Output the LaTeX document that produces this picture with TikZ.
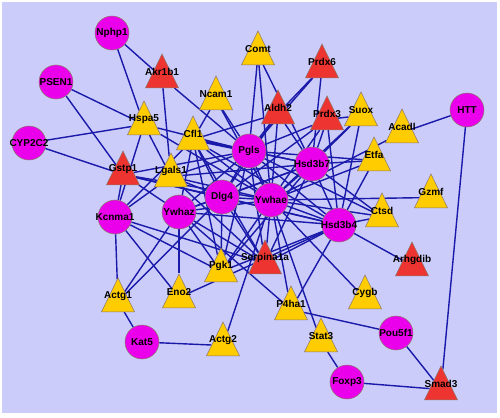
\documentclass[tikz,border=0pt]{standalone}
\usepackage{fontspec}
\setmainfont{Liberation Sans}
\usetikzlibrary{shapes.geometric}
\definecolor{bgc}{RGB}{204,204,250}
\definecolor{edgec}{RGB}{25,25,170}
\definecolor{magc}{RGB}{235,0,235}
\definecolor{yelc}{RGB}{255,204,0}
\definecolor{redc}{RGB}{238,52,48}
\definecolor{rimc}{RGB}{140,120,110}
\pgfdeclarelayer{background}
\pgfsetlayers{background,main}
\tikzset{
  gene/.style={circle, draw=rimc, line width=0.3pt, fill=magc, minimum size=0.68cm, inner sep=0pt,
    label={center:#1}},
  tri/.style={isosceles triangle, isosceles triangle apex angle=52, shape border rotate=90,
    draw=rimc, line width=0.3pt, minimum width=0.66cm, minimum height=0.66cm, inner sep=0pt,
    yshift=-0.11cm, label={[yshift=0.11cm]center:#1}},
  up/.style={tri=#1, fill=yelc},
  down/.style={tri=#1, fill=redc},
  every label/.style={font=\bfseries\fontsize{5.7}{6}\selectfont, inner sep=0pt},
  link/.style={draw=edgec, line width=0.8pt}
}
\begin{document}
\begin{tikzpicture}[x=0.02cm, y=-0.02cm]
\useasboundingbox (0,0) rectangle (500,417);

% circles
\node[gene=Nphp1]  (Nphp1)  at (112,33)  {};
\node[gene=PSEN1]  (PSEN1)  at (56,82)   {};
\node[gene=CYP2C2] (CYP2C2) at (29,143)  {};
\node[gene=HTT]    (HTT)    at (467,110) {};
\node[gene=Pgls]   (Pgls)   at (249,151) {};
\node[gene=Hsd3b7] (Hsd3b7) at (312,164) {};
\node[gene=Dlg4]   (Dlg4)   at (222,197) {};
\node[gene=Ywhae]  (Ywhae)  at (271,200) {};
\node[gene=Ywhaz]  (Ywhaz)  at (179,212) {};
\node[gene=Kcnma1] (Kcnma1) at (115,217) {};
\node[gene=Hsd3b4] (Hsd3b4) at (339,225) {};
\node[gene=Kat5]   (Kat5)   at (142,342) {};
\node[gene=Pou5f1] (Pou5f1) at (396,333) {};
\node[gene=Foxp3]  (Foxp3)  at (347,382) {};

% triangles
\node[down=Akr1b1]  (Akr1b1)  at (162,72)  {};
\node[up=Comt]      (Comt)    at (258,49)  {};
\node[down=Prdx6]   (Prdx6)   at (322,62)  {};
\node[up=Ncam1]     (Ncam1)   at (216,94)  {};
\node[down=Aldh2]   (Aldh2)   at (278,108) {};
\node[down=Prdx3]   (Prdx3)   at (327,114) {};
\node[up=Suox]      (Suox)    at (361,110) {};
\node[up=Acadl]     (Acadl)   at (402,127) {};
\node[up=Hspa5]     (Hspa5)   at (144,119) {};
\node[up=Cfl1]      (Cfl1)    at (193,134) {};
\node[down=Gstp1]   (Gstp1)   at (123,169) {};
\node[up=Lgals1]    (Lgals1)  at (171,171) {};
\node[up=Etfa]      (Etfa)    at (374,155) {};
\node[up=Gzmf]      (Gzmf)    at (431,192) {};
\node[up=Ctsd]      (Ctsd)    at (382,211) {};
\node[down=Arhgdib] (Arhgdib) at (412,260) {};
\node[down=Serpina1a] (Serpina1a) at (265,258) {};
\node[up=Pgk1]      (Pgk1)    at (221,266) {};
\node[up=Actg1]     (Actg1)   at (118,296) {};
\node[up=Eno2]      (Eno2)    at (179,292) {};
\node[up=Cygb]      (Cygb)    at (365,293) {};
\node[up=P4ha1]     (P4ha1)   at (291,304) {};
\node[up=Stat3]     (Stat3)   at (321,336) {};
\node[up=Actg2]     (Actg2)   at (223,340) {};
\node[down=Smad3]   (Smad3)   at (441,384) {};

\begin{pgfonlayer}{background}
\fill[bgc] (2,2) rectangle (497,413);
\begin{scope}[every edge/.style={link}]
\draw (Nphp1) edge (Akr1b1) edge (Hspa5);
\draw (PSEN1) edge (Hspa5) edge (Gstp1);
\draw (CYP2C2) edge (Hspa5) edge (Gstp1);
\draw (HTT) edge (Acadl) edge (Smad3);
\draw (Akr1b1) edge (Lgals1) edge (Pgls);
\draw (Comt) edge (Pgls) edge (Ywhae) edge (Hsd3b7);
\draw (Prdx6) edge (Aldh2) edge (Pgls) edge (Hsd3b7);
\draw (Ncam1) edge (Pgls) edge (Cfl1) edge (Ywhae);
\draw (Aldh2) edge (Pgls) edge (Ywhae) edge (Hsd3b7) edge (Dlg4) edge (Cfl1);
\draw (Prdx3) edge (Pgls) edge (Ywhae) edge (Hsd3b7) edge (Suox) edge (Hsd3b4) edge (Dlg4);
\draw (Suox) edge (Hsd3b7) edge (Hsd3b4) edge (Ywhae);
\draw (Acadl) edge (Ywhae);
\draw (Hspa5) edge (Kcnma1) edge (Lgals1) edge (Pgls) edge (Ywhae);
\draw (Cfl1) edge[line width=1.6pt] (Pgls) edge (Ywhae) edge (Hsd3b7) edge (Dlg4) edge (Ywhaz)
  edge (Pgk1) edge (Hsd3b4) edge (Serpina1a);
\draw (Gstp1) edge (Kcnma1) edge (Pgls) edge (Dlg4) edge (Ywhae) edge (Hsd3b4) edge (Ywhaz);
\draw (Lgals1) edge (Kcnma1) edge (Pgls) edge (Ywhae) edge (Dlg4) edge (Hsd3b7) edge (Serpina1a);
\draw (Kcnma1) edge (Cfl1) edge (Eno2) edge (Pgk1) edge (Actg1) edge (Serpina1a);
\draw (Etfa) edge (Pgls) edge (Hsd3b7) edge (Ywhae) edge (Hsd3b4);
\draw (Gzmf) edge (Ywhae);
\draw (Ctsd) edge (Hsd3b4) edge (Ywhae) edge (Hsd3b7) edge (Pgls);
\draw (Arhgdib) edge (Hsd3b4);
\draw (Pgls) edge (Ywhae) edge (Dlg4) edge (Hsd3b7) edge (Hsd3b4) edge (Ywhaz) edge (Serpina1a) edge (Pgk1);
\draw (Hsd3b7) edge (Ywhae) edge (Hsd3b4) edge (Dlg4) edge (Serpina1a) edge (Ywhaz) edge (Pgk1);
\draw (Ywhae) edge (Dlg4) edge (Hsd3b4) edge (Ywhaz) edge (Serpina1a) edge (Pgk1) edge (Cygb)
  edge (P4ha1) edge (Stat3) edge (Actg2);
\draw (Hsd3b4) edge (Serpina1a) edge (Dlg4) edge (Pgk1) edge (P4ha1) edge (Eno2) edge (Ywhaz);
\draw (Dlg4) edge (Pgk1) edge (Actg1) edge (Ywhaz) edge (Serpina1a);
\draw (Ywhaz) edge (Pgk1) edge (Eno2) edge (Actg1) edge (P4ha1) edge (Serpina1a);
\draw (P4ha1) edge (Pou5f1);
\draw (Stat3) edge (Foxp3);
\draw (Foxp3) edge (Smad3);
\draw (Pou5f1) edge (Smad3);
\draw (Kat5) edge (Actg1) edge (Actg2);
\end{scope}
\end{pgfonlayer}
\end{tikzpicture}
\end{document}
